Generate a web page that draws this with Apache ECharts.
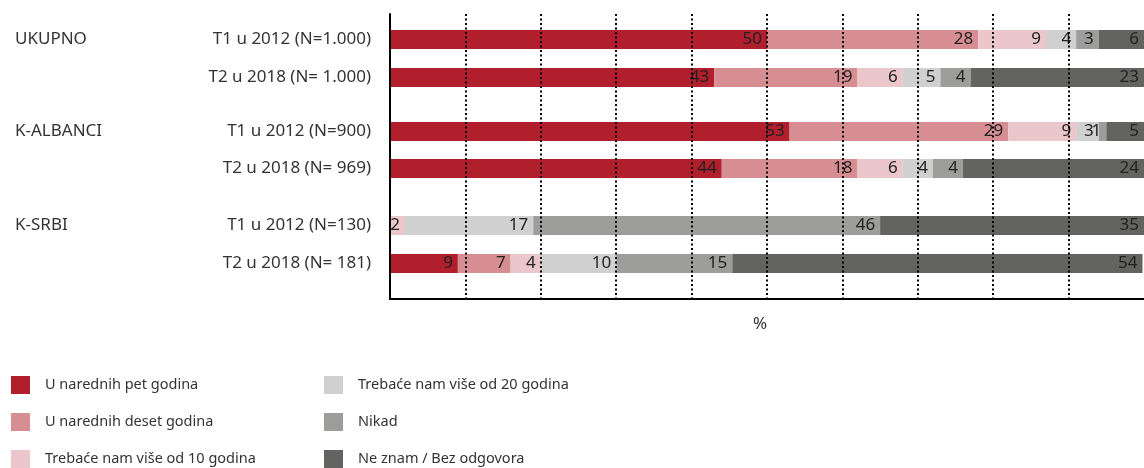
<!DOCTYPE html>
<html><head><meta charset="utf-8">
<script src="https://cdn.jsdelivr.net/npm/echarts@6/dist/echarts.min.js"></script>
<style>html,body{margin:0;padding:0;background:#fff}#c{width:1144px;height:468px}</style>
</head><body><div id="c"></div>
<script>
// ---- data ----
const groups = ['UKUPNO', 'K-ALBANCI', 'K-SRBI'];
const rowLabels = [
  'T1 u 2012 (N=1.000)', 'T2 u 2018 (N= 1.000)',
  'T1 u 2012 (N=900)', 'T2 u 2018 (N= 969)',
  'T1 u 2012 (N=130)', 'T2 u 2018 (N= 181)'
];
const seriesNames = [
  'U narednih pet godina',
  'U narednih deset godina',
  'Trebaće nam više od 10 godina',
  'Trebaće nam više od 20 godina',
  'Nikad',
  'Ne znam / Bez odgovora'
];
const pet    = [50, 43, 53, 44, 0, 9];
const deset  = [28, 19, 29, 18, 0, 7];
const vise10 = [9, 6, 9, 6, 2, 4];
const vise20 = [4, 5, 3, 4, 17, 10];
const nikad  = [3, 4, 1, 4, 46, 15.4];
const neZnam = [6, 23, 5, 24, 35, 54.4];
const axisName = '%';

// ---- styling ----
const values = [pet, deset, vise10, vise20, nikad, neZnam];
const colors = ['#B01F2B', '#D78E92', '#EBC6CA', '#D0D0D0', '#9D9D9C', '#636362'];
const FONT = "'Noto Sans', 'Open Sans', sans-serif";
const gridTops = [20.5, 113, 206.5];
const gridHeights = [76, 74, 76];

const grid = [{ left: 390, right: 0, top: 14, bottom: 169 }];
const xAxis = [{
  gridIndex: 0, type: 'value', min: 0, max: 100, interval: 10, z: 5,
  axisLine: { show: true, lineStyle: { color: '#000', width: 2 } },
  axisTick: { show: false }, axisLabel: { show: false },
  splitLine: { show: true, showMaxLine: false, showMinLine: false,
    lineStyle: { color: '#000', width: 2, type: [2, 2.5] } },
  name: axisName, nameLocation: 'middle', nameGap: 17,
  nameTextStyle: { fontFamily: FONT, fontSize: 17, color: '#333', padding: [0, 14, 0, 0] }
}];
const yAxis = [{
  gridIndex: 0, type: 'value', min: 0, max: 1, z: 5,
  axisLine: { show: true, lineStyle: { color: '#000', width: 2 } },
  axisTick: { show: false }, axisLabel: { show: false }, splitLine: { show: false }
}];
const series = [];

groups.forEach((g, gi) => {
  const gIdx = gi + 1;
  grid.push({ left: 390, right: 0, top: gridTops[gi], height: gridHeights[gi] });
  xAxis.push({ gridIndex: gIdx, type: 'value', min: 0, max: 100, show: false });
  const cats = rowLabels.slice(gi * 2, gi * 2 + 2);
  yAxis.push({
    gridIndex: gIdx, type: 'category', data: cats, inverse: true, position: 'left',
    axisLine: { show: false }, axisTick: { show: false },
    axisLabel: { margin: 19, fontFamily: FONT, fontSize: 17, color: '#333' }
  });
  yAxis.push({
    gridIndex: gIdx, type: 'category', data: [g, ''], inverse: true, position: 'left', offset: 0,
    axisLine: { show: false }, axisTick: { show: false },
    axisLabel: { margin: 375, align: 'left', fontFamily: FONT, fontSize: 17, color: '#333' }
  });
  const yIdx = 1 + gi * 2;
  seriesNames.forEach((name, si) => {
    series.push({
      type: 'bar', name, stack: 'g' + gi,
      xAxisIndex: gIdx, yAxisIndex: yIdx,
      barWidth: 19,
      itemStyle: { color: colors[si] },
      label: {
        show: true, position: 'insideRight', distance: 5,
        fontFamily: FONT, fontSize: 17, color: '#222',
        formatter: p => (p.value ? String(Math.round(p.value)) : '')
      },
      data: values[si].slice(gi * 2, gi * 2 + 2)
    });
  });
});

const legendBase = {
  orient: 'vertical', top: 376, height: 120, padding: 0,
  itemWidth: 19, itemHeight: 18, itemGap: 19,
  icon: 'rect', selectedMode: false,
  textStyle: { fontFamily: FONT, fontSize: 14.5, color: '#333', padding: [0, 0, 0, 10], lineHeight: 18 }
};

const option = {
  animation: false,
  backgroundColor: '#fff',
  grid, xAxis, yAxis, series,
  legend: [
    Object.assign({}, legendBase, { left: 11, data: seriesNames.slice(0, 3) }),
    Object.assign({}, legendBase, { left: 324, data: seriesNames.slice(3, 6) })
  ]
};
const chart = echarts.init(document.getElementById('c'), null, { renderer: 'canvas' });
chart.setOption(option);
</script>
</body></html>
